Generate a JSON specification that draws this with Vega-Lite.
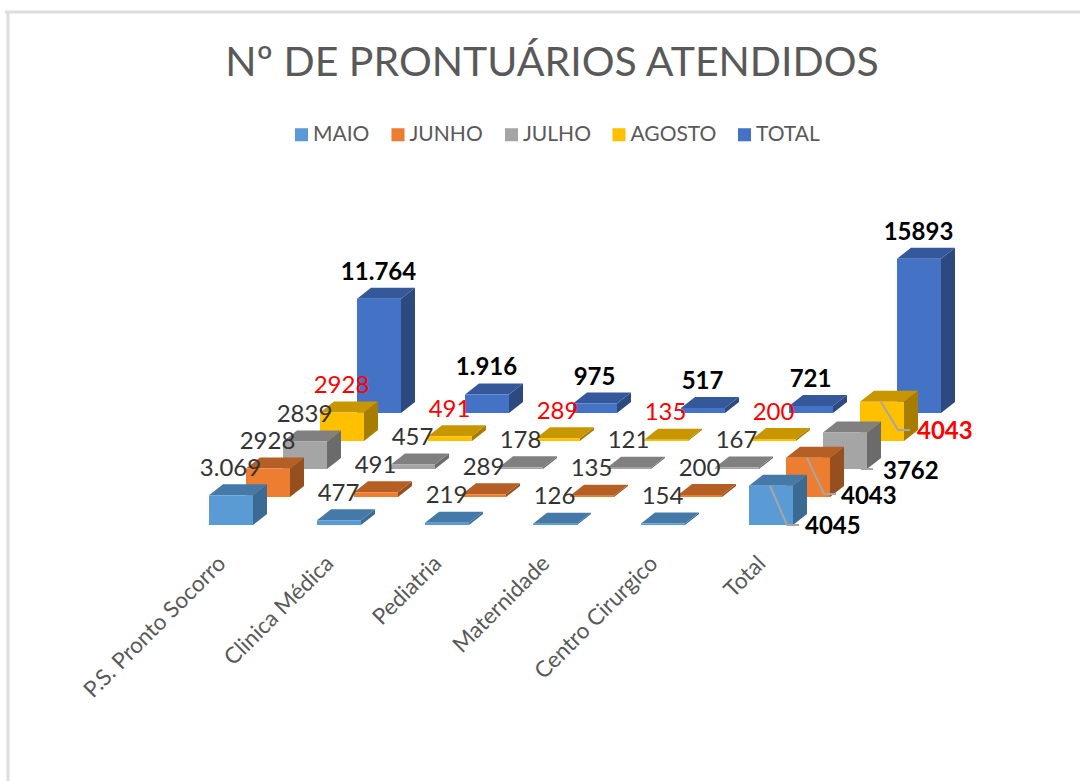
{
"$schema":"https://vega.github.io/schema/vega-lite/v6.json",
"width":1080,"height":781,"padding":0,"autosize":{"type":"none"},"background":"white",
"title":{"text":"Nº DE PRONTUÁRIOS ATENDIDOS","font":"Lato","fontSize":41,"fontWeight":"normal","color":"#595959","anchor":"middle","frame":"group","offset":-85,"dx":12},
"config":{"view":{"stroke":null}},
"data":{"values":[
{"category":"P.S. Pronto Socorro","series":"TOTAL","value":11764,"label":"11.764"},
{"category":"Clinica Médica","series":"TOTAL","value":1916,"label":"1.916"},
{"category":"Pediatria","series":"TOTAL","value":975,"label":"975"},
{"category":"Maternidade","series":"TOTAL","value":517,"label":"517"},
{"category":"Centro Cirurgico","series":"TOTAL","value":721,"label":"721"},
{"category":"Total","series":"TOTAL","value":15893,"label":"15893"},
{"category":"P.S. Pronto Socorro","series":"AGOSTO","value":2928,"label":"2928"},
{"category":"Clinica Médica","series":"AGOSTO","value":491,"label":"491"},
{"category":"Pediatria","series":"AGOSTO","value":289,"label":"289"},
{"category":"Maternidade","series":"AGOSTO","value":135,"label":"135"},
{"category":"Centro Cirurgico","series":"AGOSTO","value":200,"label":"200"},
{"category":"Total","series":"AGOSTO","value":4043,"label":"4043"},
{"category":"P.S. Pronto Socorro","series":"JULHO","value":2839,"label":"2839"},
{"category":"Clinica Médica","series":"JULHO","value":457,"label":"457"},
{"category":"Pediatria","series":"JULHO","value":178,"label":"178"},
{"category":"Maternidade","series":"JULHO","value":121,"label":"121"},
{"category":"Centro Cirurgico","series":"JULHO","value":167,"label":"167"},
{"category":"Total","series":"JULHO","value":3762,"label":"3762"},
{"category":"P.S. Pronto Socorro","series":"JUNHO","value":2928,"label":"2928"},
{"category":"Clinica Médica","series":"JUNHO","value":491,"label":"491"},
{"category":"Pediatria","series":"JUNHO","value":289,"label":"289"},
{"category":"Maternidade","series":"JUNHO","value":135,"label":"135"},
{"category":"Centro Cirurgico","series":"JUNHO","value":200,"label":"200"},
{"category":"Total","series":"JUNHO","value":4043,"label":"4043"},
{"category":"P.S. Pronto Socorro","series":"MAIO","value":3069,"label":"3.069"},
{"category":"Clinica Médica","series":"MAIO","value":477,"label":"477"},
{"category":"Pediatria","series":"MAIO","value":219,"label":"219"},
{"category":"Maternidade","series":"MAIO","value":126,"label":"126"},
{"category":"Centro Cirurgico","series":"MAIO","value":154,"label":"154"},
{"category":"Total","series":"MAIO","value":4045,"label":"4045"}
]},
"transform":[
{"calculate":"indexof(['P.S. Pronto Socorro','Clinica Médica','Pediatria','Maternidade','Centro Cirurgico','Total'],datum.category)+indexof(['MAIO','JUNHO','JULHO','AGOSTO','TOTAL'],datum.series)*37/108","as":"x0"},
{"calculate":"indexof(['MAIO','JUNHO','JULHO','AGOSTO','TOTAL'],datum.series)*28*103","as":"y0"}
],
"encoding":{
"x":{"field":"px","type":"quantitative","axis":null,"scale":{"domain":[-1.9352,8.0648],"nice":false,"zero":false}},
"y":{"field":"py","type":"quantitative","axis":null,"scale":{"domain":[-26368,54075],"nice":false,"zero":false}}
},
"layer":[
{"transform":[{"filter":"datum.series=='MAIO'&&datum.category=='Total'"},{"calculate":"-1.8611","as":"px"},{"calculate":"52840","as":"py"},{"calculate":"-26368","as":"py2"}],
 "mark":{"type":"rule","color":"#DDDDDD","strokeWidth":3},
 "encoding":{"y2":{"field":"py2"}}},
{"transform":[{"filter":"datum.series=='MAIO'&&datum.category=='Total'"},{"calculate":"-1.8889","as":"px"},{"calculate":"8.0648","as":"px2"},{"calculate":"52840","as":"py"}],
 "mark":{"type":"rule","color":"#DDDDDD","strokeWidth":3},
 "encoding":{"x2":{"field":"px2"}}},
{"transform":[{"calculate":"datum.x0","as":"px"},{"calculate":"datum.y0","as":"py"}],
 "mark":{"type":"point","filled":true,"size":0},
 "encoding":{"color":{"field":"series","type":"nominal","scale":{"domain":["MAIO","JUNHO","JULHO","AGOSTO","TOTAL"],"range":["#5B9BD5","#ED7D31","#A5A5A5","#FFC000","#4472C4"]},
  "legend":{"title":null,"orient":"none","legendX":291,"legendY":124,"direction":"horizontal","columns":5,"symbolType":"square","symbolSize":170,"symbolStrokeWidth":0,"symbolOpacity":1,"labelFont":"Lato","labelFontSize":21,"labelColor":"#595959","labelOffset":1,"columnPadding":17.5,"labelLimit":200}}}},
{"transform":[
 {"calculate":"[{f:'side',o:0,u:1,d:0,z:0},{f:'side',o:1,u:1,d:1,z:0},{f:'side',o:2,u:1,d:1,z:1},{f:'side',o:3,u:1,d:0,z:1},{f:'top',o:0,u:0,d:0,z:1},{f:'top',o:1,u:1,d:0,z:1},{f:'top',o:2,u:1,d:1,z:1},{f:'top',o:3,u:0,d:1,z:1},{f:'front',o:0,u:0,d:0,z:0},{f:'front',o:1,u:1,d:0,z:0},{f:'front',o:2,u:1,d:0,z:1},{f:'front',o:3,u:0,d:0,z:1}]","as":"c"},
 {"flatten":["c"]},
 {"calculate":"datum.c.o","as":"corner"},
 {"calculate":"datum.series+'|'+datum.c.f","as":"shade"},
 {"calculate":"datum.category+'|'+datum.shade","as":"bar"},
 {"calculate":"datum.x0+(datum.c.u*44+datum.c.d*14)/108","as":"px"},
 {"calculate":"datum.y0+datum.c.z*datum.value+datum.c.d*11*103","as":"py"}],
 "mark":{"type":"line","strokeWidth":0,"interpolate":"linear"},
 "encoding":{
  "fill":{"field":"shade","type":"nominal","legend":null,"scale":{
   "domain":["MAIO|front","MAIO|top","MAIO|side","JUNHO|front","JUNHO|top","JUNHO|side","JULHO|front","JULHO|top","JULHO|side","AGOSTO|front","AGOSTO|top","AGOSTO|side","TOTAL|front","TOTAL|top","TOTAL|side"],
   "range":["#5B9BD5","#457AA8","#3B6A92","#ED7D31","#B55F25","#96501F","#A5A5A5","#808080","#6B6B6B","#FFC000","#C79600","#A67D00","#4472C4","#34589A","#2C4A80"]}},
  "detail":{"field":"bar","type":"nominal"},
  "order":{"field":"corner","type":"quantitative"}}},
{"transform":[{"filter":"datum.category!='Total'&&datum.series!='TOTAL'"},
 {"calculate":"datum.x0+21.5/108","as":"px"},{"calculate":"datum.y0+datum.value+26.5*103","as":"py"}],
 "mark":{"type":"text","font":"Lato","fontSize":24,"align":"center","baseline":"middle"},
 "encoding":{"text":{"field":"label","type":"nominal"},"color":{"condition":{"test":"datum.series=='AGOSTO'","value":"#FF0000"},"value":"#333333"}}},
{"transform":[{"filter":"datum.series=='TOTAL'"},
 {"calculate":"datum.x0+21.5/108","as":"px"},{"calculate":"datum.y0+datum.value+26*103","as":"py"}],
 "mark":{"type":"text","font":"Lato","fontSize":24,"fontWeight":"bold","align":"center","baseline":"middle","color":"#000000"},
 "encoding":{"text":{"field":"label","type":"nominal"}}},
{"transform":[{"filter":"datum.category=='Total'&&datum.series!='TOTAL'"},
 {"calculate":"datum.x0+({MAIO:56,JUNHO:55,JULHO:60,AGOSTO:57})[datum.series]/108","as":"px"},
 {"calculate":"datum.y0+({MAIO:-2,JUNHO:0,JULHO:-3,AGOSTO:9})[datum.series]*103","as":"py"}],
 "mark":{"type":"text","font":"Lato","fontSize":24,"fontWeight":"bold","align":"left","baseline":"middle"},
 "encoding":{"text":{"field":"label","type":"nominal"},"color":{"condition":{"test":"datum.series=='AGOSTO'","value":"#FF0000"},"value":"#000000"}}},
{"transform":[{"filter":"datum.category=='Total'&&datum.series!='TOTAL'"},
 {"calculate":"[0,1,2]","as":"lp"},{"flatten":["lp"]},
 {"filter":"datum.series!='JULHO'||datum.lp>0"},
 {"calculate":"datum.x0+[21,38,50][datum.lp]/108","as":"px"},
 {"calculate":"datum.lp==0?datum.y0+datum.value:datum.y0+({MAIO:0,JUNHO:3,JULHO:0,AGOSTO:11})[datum.series]*103","as":"py"}],
 "mark":{"type":"line","color":"#A6A6A6","strokeWidth":2},
 "encoding":{"detail":{"field":"series","type":"nominal"},"order":{"field":"lp","type":"quantitative"}}},
{"transform":[{"filter":"datum.series=='MAIO'"},
 {"calculate":"datum.x0+13/108","as":"px"},{"calculate":"-35*103","as":"py"}],
 "mark":{"type":"text","font":"Lato","fontSize":22.5,"align":"right","baseline":"middle","angle":315,"color":"#595959"},
 "encoding":{"text":{"field":"category","type":"nominal"}}}
]
}
